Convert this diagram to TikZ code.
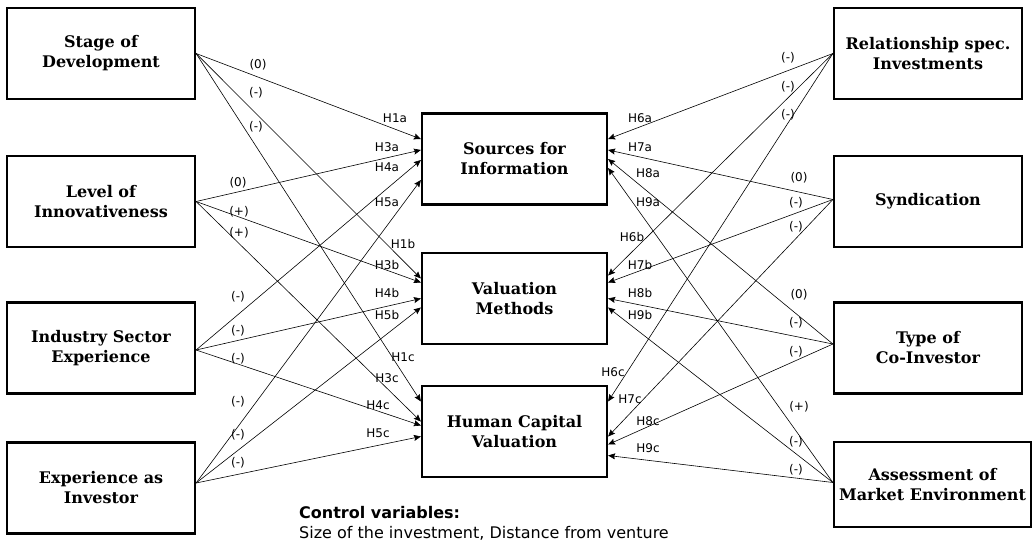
\documentclass[tikz,border=0pt]{standalone}
\usepackage{fontspec}
\setmainfont{DejaVu Serif}
\setsansfont{DejaVu Sans}
\usepackage{tikz}
\usetikzlibrary{positioning,arrows.meta}

\tikzset{
  varbox/.style={draw,line width=2.2pt,minimum width=188pt,minimum height=91pt,
    inner sep=0pt,align=center,font=\bfseries\fontsize{16}{20}\selectfont},
  link/.style={->,line width=0.6pt},
  lbl/.style={font=\sffamily\fontsize{12}{13}\selectfont,inner sep=0pt}
}

\begin{document}
\begin{tikzpicture}[x=1pt,y=-1pt,>={Stealth[length=7pt,width=6pt,inset=1pt]}]
\useasboundingbox (0,0) rectangle (1034,544);

% left side
\node[varbox] (stage) at (101,53.5) {Stage of\\Development};
\node[varbox] (innov) at (101,201.5) {Level of\\Innovativeness};
\node[varbox] (industry) at (101,348) {Industry Sector\\Experience};
\node[varbox] (investor) at (101,488) {Experience as\\Investor};

% middle
\node[varbox,minimum width=185pt] (sources) at (514.5,159) {Sources for\\Information};
\node[varbox,minimum width=185pt] (methods) at (514.5,298.5) {Valuation\\Methods};
\node[varbox,minimum width=185pt] (human) at (514.5,431.5) {Human Capital\\Valuation};

% right side
\node[varbox] (relspec) at (928,53.5) {Relationship spec.\\Investments};
\node[varbox] (syndic) at (928,201.5) {Syndication};
\node[varbox] (coinv) at (928,348) {Type of\\Co-Investor};
\node[varbox,minimum width=197pt,minimum height=85pt] (market) at (932.5,484.5) {Assessment of\\Market Environment};

% hypotheses from the left
\draw[link] (stage.east) -- ([yshift=20pt]sources.west);
\draw[link] (stage.east) -- ([yshift=20pt]methods.west);
\draw[link] (stage.east) -- ([yshift=30pt]human.west);
\draw[link] (innov.east) -- ([yshift=9pt]sources.west);
\draw[link] (innov.east) -- ([yshift=16pt]methods.west);
\draw[link] (innov.east) -- ([yshift=10pt]human.west);
\draw[link] ([yshift=-2pt]industry.east) -- ([yshift=-1pt]sources.west);
\draw[link] ([yshift=-2pt]industry.east) -- (methods.west);
\draw[link] ([yshift=-2pt]industry.east) -- ([yshift=6pt]human.west);
\draw[link] ([yshift=5pt]investor.east) -- ([yshift=-21pt]sources.west);
\draw[link] ([yshift=5pt]investor.east) -- ([yshift=-9pt]methods.west);
\draw[link] ([yshift=5pt]investor.east) -- ([yshift=-5pt]human.west);

% hypotheses from the right
\draw[link] (relspec.west) -- ([yshift=20pt]sources.east);
\draw[link] (relspec.west) -- ([yshift=23pt]methods.east);
\draw[link] (relspec.west) -- ([yshift=30pt]human.east);
\draw[link] ([yshift=2pt]syndic.west) -- ([yshift=9pt]sources.east);
\draw[link] ([yshift=2pt]syndic.west) -- ([yshift=16pt]methods.east);
\draw[link] ([yshift=2pt]syndic.west) -- ([yshift=-5pt]human.east);
\draw[link] ([yshift=4pt]coinv.west) -- (sources.east);
\draw[link] ([yshift=4pt]coinv.west) -- (methods.east);
\draw[link] ([yshift=4pt]coinv.west) -- ([yshift=-13pt]human.east);
\draw[link] ([yshift=2pt]market.west) -- ([yshift=-9pt]sources.east);
\draw[link] ([yshift=2pt]market.west) -- ([yshift=-9pt]methods.east);
\draw[link] ([yshift=2pt]market.west) -- ([yshift=-24pt]human.east);

% signs
\foreach \x/\y/\s [count=\i] in {258/65/(0),256/93/(-),256/127/(-),
    238/183/(0),239/212/(+),239/233/(+),
    238/297/(-),238/331/(-),238/359/(-),
    238/402/(-),238/435/(-),238/463/(-),
    788/58/(-),788/87/(-),788/115/(-),
    799/178/(0),796/203/(-),796/227/(-),
    799/295/(0),796/323/(-),796/352/(-),
    799/407/(+),796/442/(-),796/470/(-)}
  \node[lbl] (sign\i) at (\x,\y) {\s};

% hypothesis labels
\foreach \x/\y/\h in {395/118/H1a,387/147/H3a,387/167/H4a,387/202/H5a,
    403/244/H1b,387/265/H3b,387/293/H4b,387/315/H5b,
    403/357/H1c,387/378/H3c,378/405/H4c,378/433/H5c,
    640/118/H6a,640/147/H7a,648/173/H8a,648/202/H9a,
    632/237/H6b,640/265/H7b,640/293/H8b,640/315/H9b,
    613/372/H6c,630/399/H7c,648/421/H8c,648/448/H9c}
  \node[lbl] (\h) at (\x,\y) {\h};

\node[font=\sffamily\fontsize{16}{20}\selectfont,align=left,anchor=west,inner sep=0pt]
  (ctrl) at (299,523) {\textbf{Control variables:}\\Size of the investment, Distance from venture};
\end{tikzpicture}
\end{document}
